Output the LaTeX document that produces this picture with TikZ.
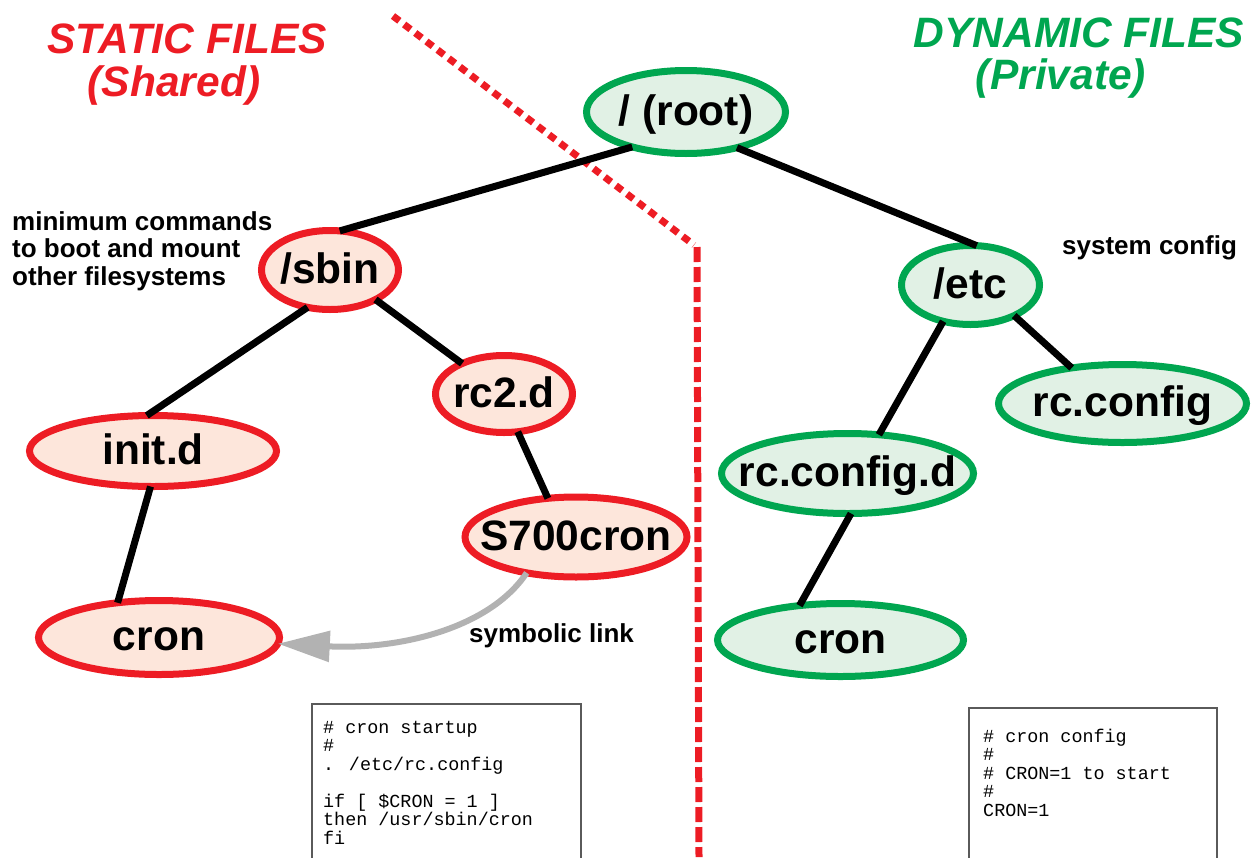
\documentclass[tikz,border=0pt]{standalone}
\usepackage{fontspec}
\setmainfont{Liberation Sans}
\newfontfamily\codefont{Liberation Mono}
\usetikzlibrary{shapes.geometric,arrows.meta}
\definecolor{sred}{HTML}{ED1C24}
\definecolor{sredfill}{HTML}{FDE6DB}
\definecolor{dgreen}{HTML}{00A650}
\definecolor{dgreenfill}{HTML}{E1F1E5}
\definecolor{linkgray}{RGB}{178,178,178}
\definecolor{boxgray}{RGB}{90,90,90}
\tikzset{
  fnode/.style={ellipse, line width=7pt, inner sep=0pt, outer sep=0pt,
    font=\fontsize{42.5}{42}\selectfont\bfseries, text height=30pt, text depth=4pt},
  snode/.style={fnode, draw=sred, fill=sredfill},
  dnode/.style={fnode, draw=dgreen, fill=dgreenfill},
  edge/.style={line width=7pt, black},
  title/.style={font=\fontsize{42.5}{42}\selectfont\bfseries\itshape, anchor=base, inner sep=0pt},
  note/.style={font=\fontsize{26}{27.5}\selectfont\bfseries, inner sep=0pt},
  code/.style={font=\codefont\fontsize{18.4}{18.5}\selectfont, inner sep=0pt, align=left, anchor=base west},
  codebox/.style={draw=boxgray, line width=1.5pt}
}
\newcommand{\lbl}[1]{\makebox[0pt]{#1}}
\begin{document}
\begin{tikzpicture}[x=1pt,y=-1pt]
\useasboundingbox (0,0) rectangle (1253,857);
% divider
\draw[sred, line width=7pt, dash pattern=on 8pt off 6pt] (393,16) -- (694,245);
\draw[sred, line width=7pt, dash pattern=on 15pt off 5pt] (697,247) -- (699,857);
% titles
\node[title, text=sred] (t1) at (187,53) {STATIC FILES};
\node[title, text=sred] (t2) at (174,96) {(Shared)};
\node[title, text=dgreen] (t3) at (1079,47) {DYNAMIC FILES};
\node[title, text=dgreen] (t4) at (1061,89) {(Private)};
% nodes
\node[dnode, minimum width=199pt, minimum height=83pt] (root) at (686,112) {\lbl{/ (root)}};
\node[snode, minimum width=137pt, minimum height=79pt] (sbin) at (330,270) {\lbl{/sbin}};
\node[snode, minimum width=137pt, minimum height=77pt] (rc2d) at (504,394) {\lbl{rc2.d}};
\node[snode, minimum width=247pt, minimum height=71pt] (initd) at (153,451) {\lbl{init.d}};
\node[snode, minimum width=222pt, minimum height=80pt] (s700) at (576,537) {\lbl{S700cron}};
\node[snode, minimum width=241pt, minimum height=74pt] (cronl) at (159,637.5) {\lbl{cron}};
\node[dnode, minimum width=138pt, minimum height=79pt] (etc) at (970.5,285) {\lbl{/etc}};
\node[dnode, minimum width=248pt, minimum height=78pt] (rcconf) at (1122.5,403.5) {\lbl{rc.config}};
\node[dnode, minimum width=252pt, minimum height=80pt] (rcconfd) at (847.5,473.5) {\lbl{rc.config.d}};
\node[dnode, minimum width=246pt, minimum height=73pt] (cronr) at (840.5,640) {\lbl{cron}};
% connectors
\draw[edge] (root.213) -- (sbin.76);
\draw[edge] (root.325) -- (etc.81);
\draw[edge] (sbin.239) -- (initd.100);
\draw[edge] (sbin.327) -- (rc2d.144);
\draw[edge] (rc2d.290) -- (s700.126);
\draw[edge] (initd.266) -- (cronl.140);
\draw[edge] (etc.233) -- (rcconfd.51);
\draw[edge] (etc.325) -- (rcconf.145);
\draw[edge] (rcconfd.275) -- (cronr.140);
% symbolic link
\draw[linkgray, line width=6pt, -{Triangle[length=52pt,width=30pt]}]
  (s700.216) .. controls (490,628) and (400,650) .. (cronl.357);
% notes
\node[note, align=left, anchor=base west] (n1) at (12,285) {minimum commands\\to boot and mount\\other filesystems};
\node[note, anchor=base west] (n2) at (1062,254) {system config};
\node[note, anchor=base west] (n3) at (469,642) {symbolic link};
% code boxes
\draw[codebox] (312,860) -- (312,704) -- (581,704) -- (581,860);
\draw[codebox] (969,860) -- (969,708) -- (1217,708) -- (1217,860);
\node[code] (c1) at (323,844) {\# cron startup\\\#\\. /etc/rc.config\\[18.5pt]if [ \$CRON = 1 ]\\then /usr/sbin/cron\\fi};
\node[code] (c2) at (983,816) {\# cron config\\\#\\\# CRON=1 to start\\\#\\CRON=1};
\end{tikzpicture}
\end{document}
